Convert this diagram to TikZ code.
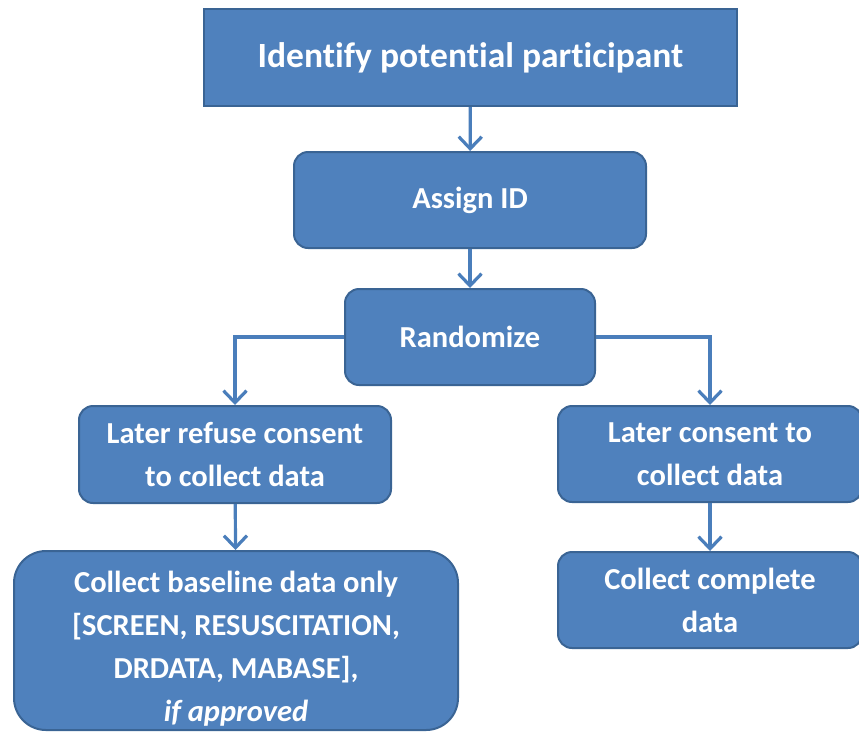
\documentclass[tikz,border=0pt]{standalone}
\usepackage{fontspec}
\setmainfont[Ligatures=CommonOff]{Carlito}
\usetikzlibrary{arrows.meta}
\definecolor{boxfill}{HTML}{4F81BD}
\definecolor{boxline}{HTML}{3A6494}
\definecolor{arrowcol}{HTML}{4A7EBB}
\begin{document}
\begin{tikzpicture}[x=1pt,y=-1pt,
  box/.style={draw=boxline, line width=2pt, fill=boxfill, text=white,
    font=\bfseries\fontsize{30.5}{43}\selectfont, align=center, inner sep=0pt,
    rounded corners=14pt},
  conn/.style={draw=arrowcol, line width=3.2pt,
    -{Straight Barb[length=12pt,width=23pt,line width=3.2pt]}}]
\useasboundingbox (0,0) rectangle (859,732);
\node[box, sharp corners, minimum width=533pt, minimum height=97pt,
  font=\bfseries\fontsize{35.5}{42}\selectfont] (top) at (470.5,57.5) {Identify potential participant};
\node[box, minimum width=352pt, minimum height=96pt] (assign) at (470,200) {Assign ID};
\node[box, minimum width=250pt, minimum height=96pt] (rand) at (470,337) {Randomize};
\node[box, minimum width=312pt, minimum height=97pt] (refuse) at (235,454.5) {Later refuse consent\\to collect data};
\node[box, minimum width=304pt, minimum height=96pt] (consent) at (710,454) {Later consent to\\collect data};
\node[box, rounded corners=32pt, minimum width=444pt, minimum height=179pt] (base) at (236,640.5)
  {\rule{0pt}{38pt}Collect baseline data only\\{[SCREEN, RESUSCITATION,}\\DRDATA, MABASE],\\\textit{if approved}};
\node[box, minimum width=304pt, minimum height=96pt] (complete) at (710,600) {Collect complete\\data};
\draw[conn] (top) -- (assign);
\draw[conn] (assign) -- (rand);
\draw[conn] (rand.west) -| (refuse.north);
\draw[conn] (rand.east) -| (consent.north);
\draw[conn] (refuse) -- (base);
\draw[conn] (consent) -- (complete);
\end{tikzpicture}
\end{document}
